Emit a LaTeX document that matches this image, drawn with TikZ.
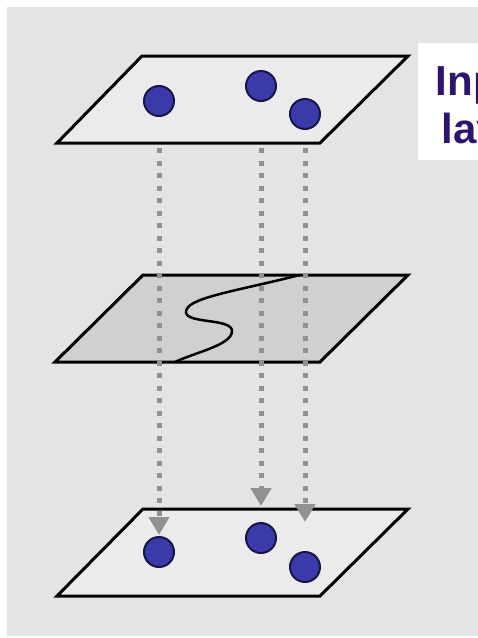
\documentclass[tikz,border=0pt]{standalone}
\usepackage{fontspec}
\setmainfont{Liberation Sans}
\usepackage{tikz}
\usetikzlibrary{arrows.meta}
\usepackage{xcolor}
\definecolor{bggray}{RGB}{228,228,228}
\definecolor{planelight}{RGB}{235,235,235}
\definecolor{planedark}{RGB}{208,208,208}
\definecolor{unitblue}{RGB}{58,58,168}
\definecolor{unitedge}{RGB}{22,22,72}
\definecolor{projgray}{RGB}{145,145,145}
\definecolor{labelblue}{RGB}{45,20,110}

\begin{document}
\begin{tikzpicture}[x=1pt,y=-1pt,
    plane/.style={draw=black, line width=3pt, line join=miter},
    unit/.style={circle, draw=unitedge, fill=unitblue, line width=2pt, minimum size=30pt, inner sep=0pt},
    proj/.style={draw=projgray, line width=5pt, dash pattern=on 5pt off 7.5pt, -{Triangle[width=20pt,length=18pt]}},
    lbl/.style={anchor=base, text=labelblue, font=\bfseries\fontsize{42}{48}\selectfont}]
    \useasboundingbox (0,0) rectangle (478,638);
    \clip (0,0) rectangle (478,638);
    \fill[white] (0,0) rectangle (478,638);
    \fill[bggray] (7,7) rectangle (478,636);
    % label box
    \fill[white] (418,43) rectangle (480,160);
    \node[lbl] (inA) at (487,95) {Input};
    \node[lbl] (inB) at (491,143) {layer};
    % the three planes
    \draw[plane, fill=planelight] (142,56) -- (408,56) -- (320,143) -- (57,143) -- cycle;
    \draw[plane, fill=planedark] (143,275) -- (408,275) -- (320,362) -- (55,362) -- cycle;
    \draw[plane, fill=planelight] (143,509) -- (408,509) -- (320,596) -- (57,596) -- cycle;
    % boundary curve
    \draw[line width=2.5pt] (300,275) .. controls (232,292) and (186,298) .. (186,312)
        .. controls (186,324) and (232,318) .. (232,331)
        .. controls (232,345) and (196,352) .. (175,362);
    % units
    \node[unit] (t1) at (159,101) {};
    \node[unit] (t2) at (261,86) {};
    \node[unit] (t3) at (305,114) {};
    \node[unit] (b1) at (159,552) {};
    \node[unit] (b2) at (261,538) {};
    \node[unit] (b3) at (305,567) {};
    % projections
    \coordinate (s1) at (159,148);
    \coordinate (s2) at (261,148);
    \coordinate (s3) at (305,148);
    \coordinate (e1) at (159,535);
    \coordinate (e2) at (261,506);
    \coordinate (e3) at (305,522);
    \draw[proj] (s1) -- (e1);
    \draw[proj] (s2) -- (e2);
    \draw[proj] (s3) -- (e3);
\end{tikzpicture}
\end{document}
